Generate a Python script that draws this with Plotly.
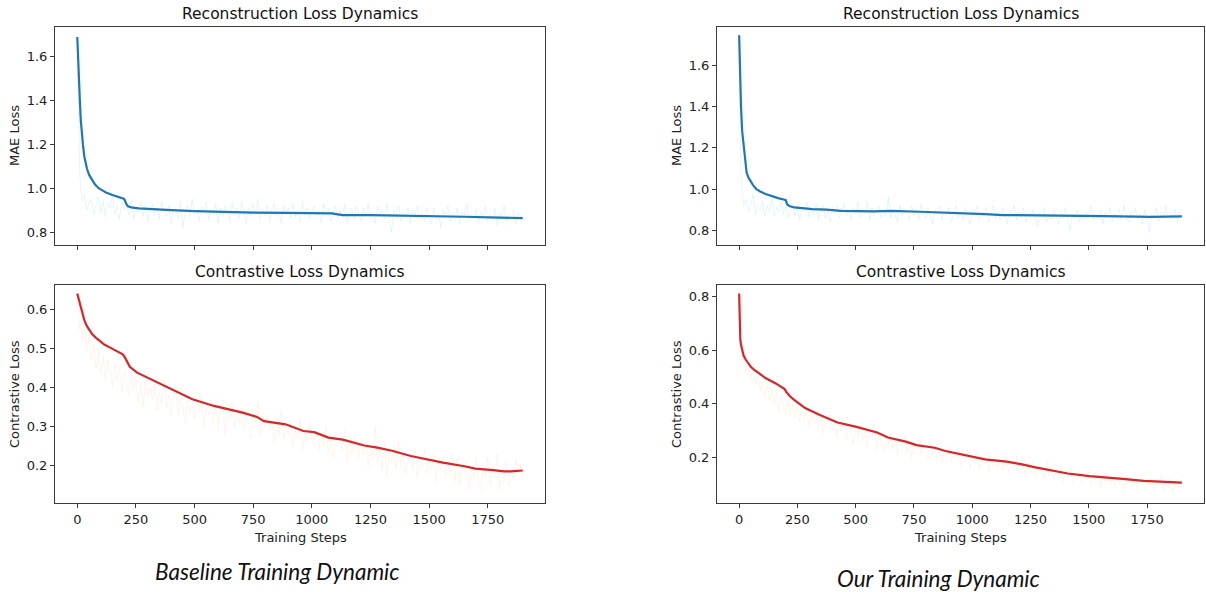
import plotly.graph_objects as go
from plotly.subplots import make_subplots

# ---------------- data ----------------
raw_steps = [0, 5, 10, 15] + list(range(20, 1901, 10))

# Baseline: reconstruction (MAE) loss
base_rec_smooth_steps = [0, 4, 8, 11, 15, 19, 24, 30, 36, 41, 50, 61, 75, 91, 108, 125, 150, 171, 190,
                         198, 203, 208, 216, 230, 262, 300, 400, 500, 613, 750, 888, 1000, 1086, 1110,
                         1132, 1250, 1400, 1498, 1650, 1804, 1899]
base_rec_smooth = [1.69, 1.55, 1.45, 1.40, 1.31, 1.25, 1.20, 1.145, 1.11, 1.09, 1.062, 1.04, 1.018,
                   1.0, 0.99, 0.979, 0.969, 0.961, 0.955, 0.952, 0.945, 0.93, 0.918, 0.913, 0.908,
                   0.905, 0.90, 0.896, 0.892, 0.889, 0.888, 0.886, 0.885, 0.881, 0.877, 0.877, 0.875,
                   0.873, 0.870, 0.866, 0.864]
base_rec_raw = [1.62, 1.25, 1.08, 0.99,
                0.94, 0.97, 0.90, 0.93, 0.95, 0.88, 0.92, 0.96, 0.89, 0.94,
                0.87, 0.93, 0.91, 0.96, 0.88, 0.92, 0.86, 0.94, 0.90, 0.93,
                0.88, 0.95, 0.86, 0.91, 0.89, 0.94, 0.87, 0.92, 0.85, 0.90,
                0.93, 0.88, 0.91, 0.86, 0.94, 0.89, 0.87, 0.92, 0.84, 0.90,
                0.91, 0.86, 0.93, 0.82, 0.89, 0.92, 0.87, 0.95, 0.88, 0.90,
                0.85, 0.92, 0.89, 0.94, 0.86, 0.90, 0.88, 0.93, 0.84, 0.91,
                0.87, 0.92, 0.89, 0.85, 0.93, 0.88, 0.91, 0.86, 0.94, 0.89,
                0.84, 0.91, 0.87, 0.93, 0.88, 0.95, 0.86, 0.90, 0.87, 0.92,
                0.85, 0.90, 0.93, 0.87, 0.89, 0.84, 0.92, 0.88, 0.91, 0.86,
                0.93, 0.87, 0.90, 0.85, 0.94, 0.88, 0.91, 0.86, 0.89, 0.92,
                0.87, 0.90, 0.84, 0.93, 0.88, 0.91, 0.85, 0.89, 0.92, 0.86,
                0.90, 0.87, 0.93, 0.84, 0.89, 0.91, 0.86, 0.92, 0.88, 0.85,
                0.91, 0.87, 0.93, 0.86, 0.89, 0.84, 0.92, 0.88, 0.90, 0.86,
                0.93, 0.87, 0.80, 0.90, 0.88, 0.92, 0.85, 0.89, 0.87, 0.91,
                0.84, 0.90, 0.88, 0.92, 0.86, 0.89, 0.85, 0.91, 0.87, 0.84,
                0.91, 0.86, 0.89, 0.82, 0.90, 0.87, 0.92, 0.85, 0.88, 0.86,
                0.91, 0.84, 0.89, 0.87, 0.93, 0.85, 0.88, 0.86, 0.90, 0.84,
                0.89, 0.87, 0.92, 0.85, 0.88, 0.86, 0.91, 0.83, 0.89, 0.87,
                0.92, 0.85, 0.88, 0.86, 0.90, 0.84, 0.89, 0.87, 0.88]

# Baseline: contrastive loss
base_con_smooth_steps = [0, 6, 12, 21, 30, 41, 52, 64, 80, 95, 115, 140, 165, 194, 201, 212, 224, 255,
                         308, 385, 491, 583, 705, 766, 796, 888, 964, 1010, 1071, 1132, 1224, 1285,
                         1346, 1422, 1498, 1559, 1651, 1697, 1773, 1819, 1849, 1899]
base_con_smooth = [0.640, 0.626, 0.608, 0.587, 0.572, 0.557, 0.546, 0.536, 0.527, 0.519, 0.510, 0.502,
                   0.494, 0.485, 0.479, 0.465, 0.453, 0.438, 0.423, 0.400, 0.370, 0.353, 0.336, 0.325,
                   0.314, 0.306, 0.289, 0.286, 0.272, 0.267, 0.252, 0.246, 0.238, 0.225, 0.215, 0.208,
                   0.199, 0.193, 0.189, 0.186, 0.186, 0.188]
base_con_raw = [0.63, 0.60, 0.55, 0.57,
                0.52, 0.55, 0.49, 0.53, 0.47, 0.51, 0.45, 0.49, 0.44, 0.48,
                0.42, 0.47, 0.44, 0.40, 0.46, 0.42, 0.45, 0.39, 0.44, 0.41,
                0.38, 0.44, 0.40, 0.43, 0.36, 0.41, 0.35, 0.42, 0.38, 0.40,
                0.37, 0.41, 0.34, 0.39, 0.36, 0.42, 0.35, 0.38, 0.33, 0.37,
                0.40, 0.33, 0.37, 0.35, 0.31, 0.38, 0.34, 0.36, 0.32, 0.37,
                0.34, 0.38, 0.30, 0.35, 0.33, 0.37, 0.31, 0.35, 0.29, 0.34,
                0.37, 0.28, 0.34, 0.32, 0.36, 0.30, 0.33, 0.31, 0.35, 0.29,
                0.33, 0.30, 0.27, 0.34, 0.31, 0.36, 0.28, 0.32, 0.30, 0.33,
                0.29, 0.31, 0.26, 0.32, 0.28, 0.34, 0.27, 0.30, 0.28, 0.31,
                0.25, 0.29, 0.27, 0.32, 0.24, 0.29, 0.26, 0.31, 0.27, 0.25,
                0.29, 0.24, 0.28, 0.25, 0.30, 0.23, 0.27, 0.22, 0.28, 0.25,
                0.27, 0.24, 0.29, 0.21, 0.26, 0.23, 0.28, 0.24, 0.22, 0.27,
                0.23, 0.27, 0.20, 0.25, 0.22, 0.30, 0.21, 0.24, 0.19, 0.26,
                0.17, 0.24, 0.21, 0.25, 0.19, 0.26, 0.20, 0.23, 0.18, 0.22,
                0.23, 0.19, 0.24, 0.17, 0.22, 0.20, 0.24, 0.18, 0.21, 0.19,
                0.23, 0.16, 0.21, 0.19, 0.22, 0.17, 0.21, 0.18, 0.23, 0.16,
                0.22, 0.15, 0.20, 0.18, 0.21, 0.14, 0.19, 0.17, 0.22, 0.16,
                0.14, 0.19, 0.17, 0.22, 0.15, 0.20, 0.17, 0.23, 0.14, 0.19,
                0.16, 0.21, 0.15, 0.19, 0.17, 0.22, 0.18, 0.20, 0.17]

# Ours: reconstruction (MAE) loss
our_rec_smooth_steps = [0, 3, 8, 13, 20, 26, 32, 40, 51, 62, 74, 90, 113, 140, 167, 195, 200, 205, 215,
                        236, 270, 314, 375, 437, 576, 653, 777, 931, 1055, 1132, 1348, 1565, 1766, 1899]
our_rec_smooth = [1.745, 1.55, 1.40, 1.28, 1.20, 1.13, 1.08, 1.055, 1.032, 1.015, 1.0, 0.988, 0.976,
                  0.965, 0.956, 0.948, 0.946, 0.927, 0.918, 0.911, 0.906, 0.903, 0.90, 0.894, 0.892,
                  0.894, 0.890, 0.885, 0.879, 0.874, 0.873, 0.869, 0.865, 0.868]
our_rec_raw = [1.72, 1.18, 1.02, 0.96,
               0.92, 0.95, 0.89, 0.93, 0.97, 0.88, 0.92, 0.90, 0.94, 0.87,
               0.92, 0.89, 0.95, 0.87, 0.91, 0.89, 0.94, 0.88, 0.92, 0.86,
               0.90, 0.93, 0.87, 0.92, 0.85, 0.91, 0.89, 0.94, 0.86, 0.90,
               0.88, 0.93, 0.85, 0.90, 0.92, 0.86, 0.89, 0.84, 0.91, 0.88,
               0.92, 0.86, 0.89, 0.93, 0.87, 0.90, 0.85, 0.91, 0.88, 0.94,
               0.86, 0.90, 0.88, 0.94, 0.85, 0.91, 0.87, 0.89, 0.92, 0.86,
               0.89, 0.87, 0.96, 0.86, 0.90, 0.88, 0.84, 0.92, 0.87, 0.90,
               0.88, 0.85, 0.92, 0.87, 0.90, 0.85, 0.93, 0.88, 0.86, 0.91,
               0.87, 0.83, 0.90, 0.88, 0.92, 0.85, 0.89, 0.87, 0.91, 0.84,
               0.88, 0.92, 0.86, 0.89, 0.85, 0.91, 0.87, 0.83, 0.90, 0.88,
               0.92, 0.85, 0.89, 0.87, 0.91, 0.84, 0.88, 0.92, 0.86, 0.89,
               0.85, 0.91, 0.87, 0.83, 0.90, 0.88, 0.92, 0.85, 0.89, 0.86,
               0.91, 0.84, 0.88, 0.86, 0.90, 0.87, 0.82, 0.89, 0.86, 0.91,
               0.84, 0.88, 0.85, 0.90, 0.87, 0.83, 0.89, 0.86, 0.91, 0.85,
               0.80, 0.88, 0.86, 0.90, 0.84, 0.88, 0.85, 0.89, 0.87, 0.92,
               0.85, 0.88, 0.86, 0.90, 0.83, 0.89, 0.87, 0.91, 0.84, 0.88,
               0.86, 0.90, 0.85, 0.92, 0.87, 0.84, 0.89, 0.86, 0.91, 0.85,
               0.88, 0.83, 0.90, 0.86, 0.79, 0.88, 0.86, 0.91, 0.84, 0.89,
               0.87, 0.92, 0.85, 0.88, 0.86, 0.90, 0.84, 0.89, 0.87]

# Ours: contrastive loss
our_con_smooth_steps = [0, 2, 5, 8, 12, 19, 28, 38, 51, 65, 82, 113, 159, 195, 202, 218, 236, 258, 283,
                        344, 422, 499, 561, 592, 638, 715, 761, 839, 885, 962, 1055, 1148, 1209, 1271,
                        1348, 1410, 1503, 1596, 1657, 1735, 1812, 1899]
our_con_smooth = [0.811, 0.69, 0.64, 0.62, 0.60, 0.58, 0.565, 0.551, 0.537, 0.526, 0.515, 0.496, 0.475,
                  0.455, 0.444, 0.428, 0.415, 0.399, 0.384, 0.359, 0.330, 0.315, 0.299, 0.293, 0.274,
                  0.259, 0.246, 0.236, 0.224, 0.209, 0.193, 0.184, 0.175, 0.163, 0.150, 0.140, 0.130,
                  0.125, 0.119, 0.1125, 0.109, 0.106]
our_con_raw = [0.80, 0.64, 0.60, 0.56,
               0.58, 0.52, 0.55, 0.49, 0.53, 0.47, 0.50, 0.45, 0.48, 0.43,
               0.47, 0.41, 0.45, 0.40, 0.44, 0.37, 0.43, 0.39, 0.36, 0.42,
               0.36, 0.40, 0.35, 0.39, 0.33, 0.37, 0.34, 0.38, 0.31, 0.36,
               0.33, 0.37, 0.31, 0.35, 0.29, 0.34, 0.32, 0.36, 0.30, 0.33,
               0.28, 0.33, 0.30, 0.34, 0.27, 0.32, 0.29, 0.25, 0.31, 0.28,
               0.32, 0.26, 0.30, 0.24, 0.29, 0.27, 0.31, 0.23, 0.28, 0.26,
               0.22, 0.28, 0.25, 0.29, 0.23, 0.27, 0.21, 0.26, 0.24, 0.28,
               0.22, 0.26, 0.20, 0.25, 0.23, 0.27, 0.21, 0.24, 0.22, 0.19,
               0.25, 0.21, 0.24, 0.19, 0.23, 0.18, 0.22, 0.20, 0.24, 0.18,
               0.22, 0.20, 0.24, 0.17, 0.21, 0.19, 0.23, 0.16, 0.21, 0.19,
               0.23, 0.16, 0.20, 0.18, 0.22, 0.15, 0.19, 0.17, 0.21, 0.16,
               0.19, 0.15, 0.21, 0.17, 0.14, 0.19, 0.16, 0.20, 0.14, 0.18,
               0.16, 0.13, 0.18, 0.15, 0.19, 0.13, 0.17, 0.14, 0.16, 0.12,
               0.19, 0.13, 0.16, 0.12, 0.15, 0.14, 0.17, 0.11, 0.15, 0.13,
               0.16, 0.11, 0.14, 0.12, 0.15, 0.10, 0.14, 0.12, 0.15, 0.10,
               0.13, 0.11, 0.15, 0.09, 0.13, 0.11, 0.14, 0.10, 0.12, 0.09,
               0.13, 0.10, 0.14, 0.08, 0.12, 0.10, 0.13, 0.09, 0.12, 0.08,
               0.11, 0.13, 0.08, 0.11, 0.09, 0.12, 0.07, 0.11, 0.10, 0.13,
               0.08, 0.11, 0.09, 0.12, 0.07, 0.10, 0.12, 0.09, 0.11]

x_ticks = [0, 250, 500, 750, 1000, 1250, 1500, 1750]
rec_ticks = [0.8, 1.0, 1.2, 1.4, 1.6]
base_con_ticks = [0.2, 0.3, 0.4, 0.5, 0.6]
our_con_ticks = [0.2, 0.4, 0.6, 0.8]

# ---------------- styling ----------------
W, H = 1206, 592
BLUE = "#1f77b4"
RED = "#d62728"
RAW_BLUE = "rgba(135,206,235,0.22)"
RAW_ORANGE = "rgba(255,165,80,0.12)"
AXIS_COL = "#3a3a3a"
FONT = "DejaVu Sans"


def px_x(p):
    return p / W


def px_y(p):
    return 1 - p / H


fig = make_subplots(rows=2, cols=2)

panels = [
    (1, 1, base_rec_raw, base_rec_smooth_steps, base_rec_smooth, RAW_BLUE, BLUE),
    (2, 1, base_con_raw, base_con_smooth_steps, base_con_smooth, RAW_ORANGE, RED),
    (1, 2, our_rec_raw, our_rec_smooth_steps, our_rec_smooth, RAW_BLUE, BLUE),
    (2, 2, our_con_raw, our_con_smooth_steps, our_con_smooth, RAW_ORANGE, RED),
]
for r, c, ry, sx, sy, rc, sc in panels:
    fig.add_trace(go.Scatter(x=raw_steps, y=ry, mode="lines", line=dict(color=rc, width=0.9),
                             showlegend=False, hoverinfo="skip"), row=r, col=c)
    fig.add_trace(go.Scatter(x=sx, y=sy, mode="lines", line=dict(color=sc, width=2.2),
                             showlegend=False), row=r, col=c)

left_dom = [px_x(55), px_x(545)]
right_dom = [px_x(717), px_x(1204)]
top_dom = [px_y(245), px_y(27)]
bot_dom = [px_y(503), px_y(285)]

common_axis = dict(showline=True, mirror=True, linecolor=AXIS_COL, linewidth=1,
                   ticks="outside", ticklen=4, tickcolor=AXIS_COL, tickwidth=1,
                   showgrid=False, zeroline=False,
                   tickfont=dict(family=FONT, size=13, color="#222"))

xr = [-95, 1994]
fig.update_xaxes(**common_axis, range=xr, tickvals=x_ticks)
fig.update_yaxes(**common_axis)

fig.update_xaxes(domain=left_dom, showticklabels=False, row=1, col=1)
fig.update_xaxes(domain=left_dom, row=2, col=1)
fig.update_xaxes(domain=right_dom, showticklabels=False, row=1, col=2)
fig.update_xaxes(domain=right_dom, row=2, col=2)

fig.update_yaxes(domain=top_dom, range=[0.741, 1.736], tickvals=rec_ticks, tickformat=".1f", row=1, col=1)
fig.update_yaxes(domain=bot_dom, range=[0.105, 0.662], tickvals=base_con_ticks, tickformat=".1f", row=2, col=1)
fig.update_yaxes(domain=top_dom, range=[0.729, 1.785], tickvals=rec_ticks, tickformat=".1f", row=1, col=2)
fig.update_yaxes(domain=bot_dom, range=[0.03, 0.843], tickvals=our_con_ticks, tickformat=".1f", row=2, col=2)

title_font = dict(family=FONT, size=15.5, color="#111")
label_font = dict(family=FONT, size=13, color="#222")
annos = []
for cx in [300, 960.5]:
    annos.append(dict(text="Reconstruction Loss Dynamics", x=px_x(cx), y=px_y(14), font=title_font))
    annos.append(dict(text="Contrastive Loss Dynamics", x=px_x(cx), y=px_y(272), font=title_font))
    annos.append(dict(text="Training Steps", x=px_x(cx), y=px_y(537), font=label_font))
for lx in [14, 676]:
    annos.append(dict(text="MAE Loss", x=px_x(lx), y=px_y(136), textangle=-90, font=label_font))
    annos.append(dict(text="Contrastive Loss", x=px_x(lx), y=px_y(394), textangle=-90, font=label_font))
cap_font = dict(family="Lato", size=22.5, color="#111")
annos.append(dict(text="<i>Baseline Training Dynamic</i>", x=px_x(277), y=px_y(571), font=cap_font))
annos.append(dict(text="<i>Our Training Dynamic</i>", x=px_x(938), y=px_y(578), font=cap_font))

for a in annos:
    a.update(xref="paper", yref="paper", showarrow=False, xanchor="center", yanchor="middle")

fig.update_layout(width=W, height=H, margin=dict(l=0, r=0, t=0, b=0),
                  paper_bgcolor="white", plot_bgcolor="white",
                  annotations=annos, showlegend=False)

# remove the browser's default page margin so the figure fills the window exactly
fig.write_html("out.html", config={"displayModeBar": False},
               post_script="document.body.style.margin='0';document.body.style.overflow='hidden';")
